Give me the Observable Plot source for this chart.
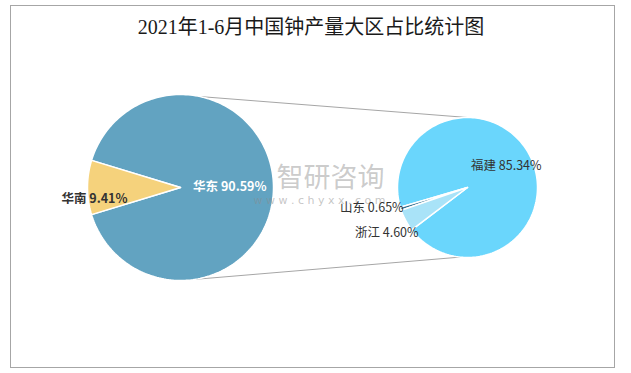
<!DOCTYPE html>
<html><head><meta charset="utf-8">
<script src="https://cdn.jsdelivr.net/npm/d3@7"></script>
<script src="https://cdn.jsdelivr.net/npm/@observablehq/plot@0.6"></script>
<style>
body{margin:0;background:#fff;}
#wrap{position:relative;width:631px;height:373px;}
#chart{position:absolute;left:0;top:0;}
#title{position:absolute;left:0;width:622px;top:15px;line-height:24px;text-align:center;font-family:"Liberation Serif","Noto Sans CJK SC",serif;font-size:20px;color:#1a1a1a;}
</style></head><body>
<div id="wrap"><div id="chart"></div><div id="title"></div></div>
<script>
// ---- data ----
const titleText = "2021年1-6月中国钟产量大区占比统计图";
const mainNames = ["华东", "华南"];
const mainValues = [90.59, 9.41];
const subNames = ["福建", "山东", "浙江"];
const subValues = [85.34, 0.65, 4.60];
const watermarkText = ["智研咨询", "w w w . c h y x x . c o m"];

// ---- layout & style ----
const W = 631, H = 373;
const colors = {"华东": "#62A3C1", "华南": "#F5D27C", "福建": "#6AD6FC", "山东": "#2F6C8C", "浙江": "#A9E3F8"};
const leftPie = {cx: 180, cy: 187, r: 93};
const rightPie = {cx: 467, cy: 187, r: 70};
const leftStart = 270 + 360 * (mainValues[0] + mainValues[1] / 2) / d3.sum(mainValues);
const rightStart = 232.8;
const labelLayout = {
  "华东": {k: 0.53, dx: 0, dy: -1, fill: "#ffffff", weight: "bold"},
  "华南": {k: 0.925, dx: 0, dy: 11, fill: "#333333", weight: "bold"},
  "福建": {k: 0.62, dx: 0, dy: -1.5, fill: "#333333", weight: "normal"},
  "山东": {k: 1, dx: -29, dy: -1, fill: "#333333", weight: "normal"},
  "浙江": {k: 1, dx: -19, dy: 13, fill: "#333333", weight: "normal"}
};
const connectors = [
  {leftAngle: 12, rightAngle: 0},
  {leftAngle: 171, rightAngle: 186}
];

document.getElementById("title").textContent = titleText;

const rad = a => a * Math.PI / 180;
function pt(p, angle, k = 1) {
  return {x: p.cx + k * p.r * Math.sin(rad(angle)), y: p.cy - k * p.r * Math.cos(rad(angle))};
}
function slices(names, values, pie, start, dir) {
  const total = d3.sum(values);
  const pts = [], mids = [];
  let cum = 0;
  names.forEach((name, i) => {
    const a0 = start + dir * 360 * cum / total;
    const a1 = start + dir * 360 * (cum + values[i]) / total;
    cum += values[i];
    const n = Math.max(2, Math.ceil(Math.abs(a1 - a0) / 1.5));
    pts.push({name, ...pt(pie, 0, 0)});
    for (let j = 0; j <= n; j++) pts.push({name, ...pt(pie, a0 + (a1 - a0) * j / n)});
    pts.push({name, ...pt(pie, 0, 0)});
    mids.push({name, value: values[i], mid: (a0 + a1) / 2, pie});
  });
  return {pts, mids};
}
const L = slices(mainNames, mainValues, leftPie, leftStart, -1);
const R = slices(subNames, subValues, rightPie, rightStart, -1);
const labels = [...L.mids, ...R.mids].map(m => {
  const lay = labelLayout[m.name];
  const p = pt(m.pie, m.mid, lay.k);
  return {text: `${m.name} ${m.value.toFixed(2)}%`, x: p.x + lay.dx, y: p.y + lay.dy, fill: lay.fill, weight: lay.weight};
});
const links = connectors.map(c => {
  const a = pt(leftPie, c.leftAngle), b = pt(rightPie, c.rightAngle);
  return {x1: a.x, y1: a.y, x2: b.x, y2: b.y};
});
const frame = [{x1: 10.5, x2: 614.5, y1: 5.5, y2: 367.5}];
const allNames = [...mainNames, ...subNames];

const chart = Plot.plot({
  width: W, height: H,
  margin: 0,
  x: {domain: [0, W], range: [0, W], axis: null},
  y: {domain: [0, H], range: [0, H], axis: null},
  color: {domain: allNames, range: allNames.map(n => colors[n])},
  style: {background: "#fff"},
  marks: [
    Plot.rect(frame, {x1: "x1", x2: "x2", y1: "y1", y2: "y2", fill: "none", stroke: "#a6a6a6", strokeWidth: 1}),
    Plot.link(links, {x1: "x1", y1: "y1", x2: "x2", y2: "y2", stroke: "#a6a6a6", strokeWidth: 1}),
    Plot.line(L.pts, {x: "x", y: "y", z: "name", fill: "name", stroke: "#ffffff", strokeWidth: 1.5, strokeLinejoin: "round", curve: "linear"}),
    Plot.line(R.pts, {x: "x", y: "y", z: "name", fill: "name", stroke: "#ffffff", strokeWidth: 1.5, strokeLinejoin: "round", curve: "linear"}),
    Plot.text([watermarkText[0]], {x: [330], y: [178], text: d => d, fontSize: 27, fill: "#8c8c8c", fillOpacity: 0.45, fontFamily: "Noto Sans CJK SC"}),
    Plot.text([watermarkText[1]], {x: [319], y: [200], text: d => d, fontSize: 11, fill: "#8c8c8c", fillOpacity: 0.5, fontFamily: "DejaVu Sans"}),
    Plot.text(labels.filter(d => d.weight === "bold"), {x: "x", y: "y", text: "text", fill: "fill", fontSize: 12.5, fontWeight: "bold", fontFamily: "Noto Sans CJK SC"}),
    Plot.text(labels.filter(d => d.weight !== "bold"), {x: "x", y: "y", text: "text", fill: "fill", fontSize: 12.5, fontFamily: "Noto Sans CJK SC"})
  ]
});
document.getElementById("chart").appendChild(chart);
</script>
</body></html>
